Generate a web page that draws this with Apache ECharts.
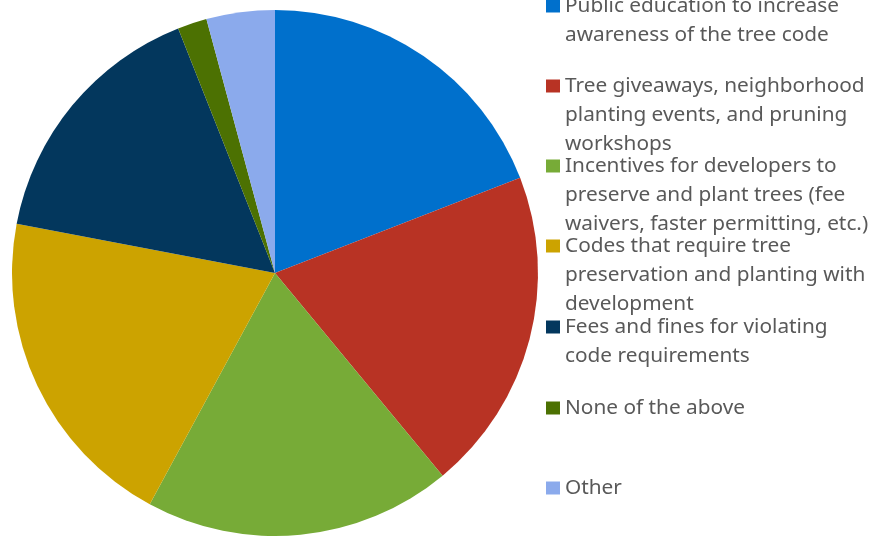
<!DOCTYPE html>
<html>
<head>
<meta charset="utf-8">
<script src="https://cdn.jsdelivr.net/npm/echarts@6/dist/echarts.min.js"></script>
<style>
  html, body { margin: 0; padding: 0; background: #ffffff; }
  #chart { width: 880px; height: 537px; }
</style>
</head>
<body>
<div id="chart"></div>
<script>
// Survey categories (clockwise from 12 o'clock)
const categories = [
  'Public education to increase awareness of the tree code',
  'Tree giveaways, neighborhood planting events, and pruning workshops',
  'Incentives for developers to preserve and plant trees (fee waivers, faster permitting, etc.)',
  'Codes that require tree preservation and planting with development',
  'Fees and fines for violating code requirements',
  'None of the above',
  'Other'
];

// Share of responses, percent
const values = [19.1, 19.9, 18.9, 20.1, 16.0, 1.8, 4.2];

// Legend text, wrapped as shown
const legendLines = [
  ['Public education to increase', 'awareness of the tree code'],
  ['Tree giveaways, neighborhood', 'planting events, and pruning', 'workshops'],
  ['Incentives for developers to', 'preserve and plant trees (fee', 'waivers, faster permitting, etc.)'],
  ['Codes that require tree', 'preservation and planting with', 'development'],
  ['Fees and fines for violating', 'code requirements'],
  ['None of the above'],
  ['Other']
];

const colors = ['#0070CC', '#B83324', '#77AB37', '#CCA300', '#03375D', '#4C7102', '#8BAAEC'];

// Vertical centre of each legend marker (first text line)
const legendMarkY = [6, 86, 166, 246, 327, 408, 488];

const LINE_H = 29;
const chart = echarts.init(document.getElementById('chart'), null, { renderer: 'canvas' });

// The legend centres its marker on the text block; blank lines above the
// text keep the marker level with the first line of a wrapped label.
const legends = categories.map((name, i) => {
  const n = legendLines[i].length;
  const label = '\n'.repeat(n - 1) + legendLines[i].join('\n');
  return {
    orient: 'vertical',
    left: 546,
    top: legendMarkY[i] - (2 * n - 1) * LINE_H / 2,
    padding: 0,
    itemWidth: 14,
    itemHeight: 13,
    icon: 'rect',
    selectedMode: false,
    data: [name],
    formatter: () => label,
    textStyle: {
      fontFamily: 'Noto Sans',
      fontSize: 20.8,
      color: '#595959',
      lineHeight: LINE_H
    }
  };
});

chart.setOption({
  animation: false,
  color: colors,
  legend: legends,
  series: [{
    type: 'pie',
    center: [275, 273],
    radius: [0, 263],
    startAngle: 90,
    clockwise: true,
    label: { show: false },
    labelLine: { show: false },
    emphasis: { disabled: true },
    itemStyle: { borderWidth: 0 },
    data: categories.map((name, i) => ({ name, value: values[i] }))
  }]
});
</script>
</body>
</html>
